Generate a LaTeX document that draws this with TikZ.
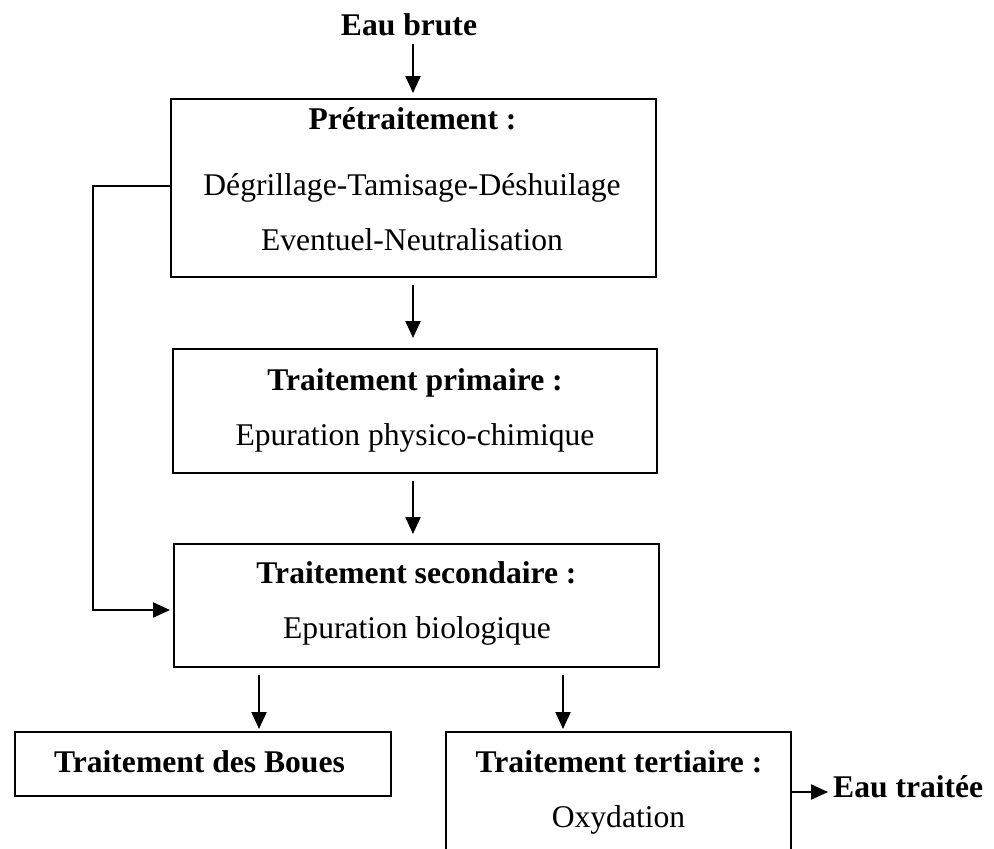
\documentclass[tikz,border=0pt]{standalone}
\usepackage{fontspec}
\setmainfont{Liberation Serif}
\usetikzlibrary{arrows.meta}
\tikzset{
  boxnode/.style={draw, line width=2pt, inner sep=0pt, outer sep=0pt},
  lbl/.style={inner sep=0pt, anchor=base, font=\fontsize{31.6}{38}\selectfont},
  blbl/.style={inner sep=0pt, anchor=base, font=\fontsize{31.6}{38}\selectfont\bfseries},
  arr/.style={line width=2.2pt, -{Triangle[length=17pt,width=15pt]}},
}
\begin{document}
\begin{tikzpicture}[x=1pt,y=-1pt]
\useasboundingbox (0,0) rectangle (994,849);
\fill[white] (0,0) rectangle (994,849);
\clip (0,0) rectangle (994,849);

% boxes
\node[boxnode, minimum width=485pt, minimum height=178pt] (b1) at (413.5,188) {};
\node[boxnode, minimum width=484pt, minimum height=124pt] (b2) at (415,411) {};
\node[boxnode, minimum width=485pt, minimum height=123pt] (b3) at (416.5,605.5) {};
\node[boxnode, minimum width=376pt, minimum height=64pt] (b4) at (203,764) {};
\node[boxnode, minimum width=345pt, minimum height=160pt] (b5) at (618.5,812) {};

% texts
\node[blbl] (t0) at (409,35) {Eau brute};
\node[blbl] (t1a) at (412.5,129) {Prétraitement :};
\node[lbl] (t1b) at (412,195) {Dégrillage-Tamisage-Déshuilage};
\node[lbl] (t1c) at (412,250) {Eventuel-Neutralisation};
\node[blbl] (t2a) at (415,390) {Traitement primaire :};
\node[lbl] (t2b) at (415,445) {Epuration physico-chimique};
\node[blbl] (t3a) at (416.5,583) {Traitement secondaire :};
\node[lbl] (t3b) at (417,638) {Epuration biologique};
\node[blbl] (t4) at (199.5,772) {Traitement des Boues};
\node[blbl] (t5a) at (619,772) {Traitement tertiaire :};
\node[lbl] (t5b) at (618.5,827) {Oxydation};
\node[blbl, anchor=base west] (t6) at (833,797) {Eau traitée};

% connectors
\coordinate (xa) at (413,0);
\coordinate (xb) at (259,0);
\coordinate (xc) at (563,0);
\draw[arr, shorten <=8pt, shorten >=6pt] (xa |- t0.south) -- (xa |- b1.north);
\draw[arr, shorten <=8pt, shorten >=11pt] (xa |- b1.south) -- (xa |- b2.north);
\draw[arr, shorten <=8pt, shorten >=10pt] (xa |- b2.south) -- (xa |- b3.north);
\draw[arr, shorten <=8pt, shorten >=3pt] (xb |- b3.south) -- (xb |- b4.north);
\draw[arr, shorten <=8pt, shorten >=3pt] (xc |- b3.south) -- (xc |- b5.north);

\coordinate (f1) at (93,186);
\coordinate (f2) at (93,610);
\draw[arr, shorten >=4pt] (f1 -| b1.west) -- (f1) -- (f2) -- (f2 -| b3.west);

\coordinate (f3) at (0,792);
\draw[arr, shorten >=5pt] (f3 -| b5.east) -- (f3 -| t6.west);
\end{tikzpicture}
\end{document}
